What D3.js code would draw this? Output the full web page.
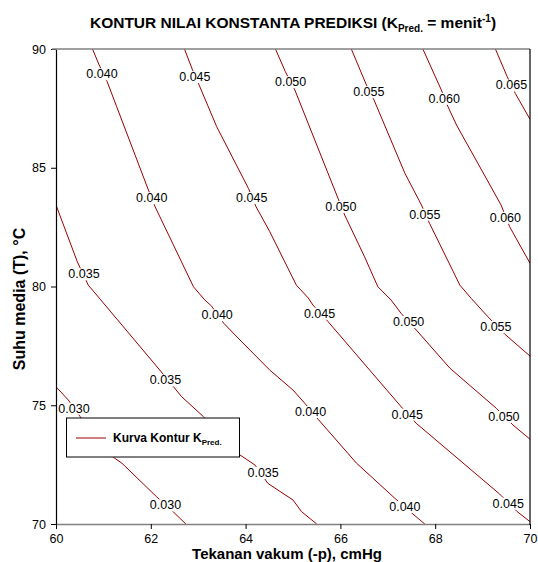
<!DOCTYPE html>
<html><head><meta charset="utf-8">
<script src="https://cdn.jsdelivr.net/npm/d3@7"></script>
<style>body{margin:0;background:#fff} svg{display:block} text{font-family:"Liberation Sans",Arial,sans-serif}</style>
</head><body><svg id="c" width="538" height="562"></svg>
<script>
// Contour levels
const levels = ["0.030","0.035","0.040","0.045","0.050","0.055","0.060","0.065"];
// Contour polylines [p (cmHg), T (°C)]
const line030 = [[60.0,75.78],[60.26,75.22],[60.51,74.52],[61.21,72.81],[61.39,72.56],[62.12,71.15],[62.47,70.52],[62.74,70.0]];
const line035 = [[60.0,83.43],[60.45,81.04],[60.68,80.06],[60.93,79.47],[62.19,76.48],[62.65,75.36],[63.11,74.52],[63.88,72.91],[64.20,72.48],[64.47,71.71],[65.0,71.01],[65.18,70.52],[65.5,70.0]];
const line040 = [[60.77,90.0],[60.91,89.33],[61.08,88.62],[61.28,87.57],[61.95,84.06],[62.09,83.36],[62.90,79.99],[63.14,79.43],[63.28,79.18],[63.54,78.45],[63.88,77.75],[64.51,76.48],[65.0,75.64],[65.25,75.08],[65.53,74.41],[66.34,72.56],[67.15,71.08],[67.53,70.42],[67.78,70.0]];
const line045 = [[62.71,90.0],[62.88,89.12],[63.02,88.48],[63.39,86.73],[64.06,84.13],[64.22,83.36],[64.51,82.31],[65.07,80.06],[65.32,79.52],[65.42,79.22],[65.74,78.52],[67.25,75.01],[67.60,74.24],[69.36,71.26],[69.73,70.52],[70.0,70.1]];
const line050 = [[64.63,90.0],[64.84,89.04],[65.04,88.27],[65.95,83.71],[66.09,83.01],[66.51,81.25],[66.79,79.99],[67.07,79.43],[67.28,78.87],[67.60,78.17],[68.31,76.56],[69.29,74.87],[69.64,74.17],[70.0,73.57]];
const line055 = [[66.23,90.0],[66.55,88.48],[66.71,87.85],[67.36,84.77],[67.71,83.43],[67.88,82.66],[68.52,80.06],[68.76,79.50],[69.11,78.73],[69.47,77.99],[70.0,77.07]];
const line060 = [[67.74,90.0],[68.13,88.27],[68.27,87.57],[68.45,86.80],[69.39,83.43],[69.57,82.52],[70.0,80.98]];
const line065 = [[69.27,90.0],[69.52,88.83],[69.69,88.13],[70.0,87.04]];
const contourLines = [line030,line035,line040,line045,line050,line055,line060,line065];
// Label anchor positions [p, T]
const labels030 = [[60.38,74.87],[62.31,70.80]];
const labels035 = [[60.59,80.53],[62.31,76.06],[64.37,72.16]];
const labels040 = [[60.97,88.95],[62.02,83.73],[63.40,78.80],[65.37,74.73],[67.36,70.73]];
const labels045 = [[62.93,88.83],[64.13,83.74],[65.56,78.87],[67.41,74.62],[69.54,70.87]];
const labels050 = [[64.95,88.62],[66.01,83.36],[67.44,78.52],[69.45,74.52]];
const labels055 = [[66.60,88.20],[67.78,83.04],[69.28,78.31]];
const labels060 = [[68.19,87.92],[69.48,82.91]];
const labels065 = [[69.61,88.48]];
const contourLabels = [labels030,labels035,labels040,labels045,labels050,labels055,labels060,labels065];
// Axes
const xTicks = [60,62,64,66,68,70];
const yTicks = [70,75,80,85,90];

const W = 538, H = 562;
const m = {left:56, right:8, top:49, bottom:38};
const svg = d3.select("#c");
svg.append("rect").attr("width",W).attr("height",H).attr("fill","#fff");
const x = d3.scaleLinear().domain([60,70]).range([m.left, W-m.right]);
const y = d3.scaleLinear().domain([70,90]).range([H-m.bottom, m.top]);
const lineColor = "#990000";

svg.append("clipPath").attr("id","clip").append("rect")
  .attr("x",x(60)).attr("y",y(90)).attr("width",x(70)-x(60)).attr("height",y(70)-y(90));

const gL = svg.append("g").attr("clip-path","url(#clip)");
const lineGen = d3.line().x(d=>x(d[0])).y(d=>y(d[1]));
gL.selectAll("path.c").data(contourLines).join("path")
  .attr("class","c").attr("d",lineGen)
  .attr("fill","none").attr("stroke",lineColor).attr("stroke-width",1);

// labels with white gap
const gT = svg.append("g");
contourLabels.forEach((arr,i)=>{
  arr.forEach(p=>{
    const g = gT.append("g");
    const t = g.append("text").attr("x",x(p[0])).attr("y",y(p[1])).attr("dy","0.35em")
      .attr("text-anchor","middle").attr("font-size",12.5).attr("fill","#000").text(levels[i]);
    const b = t.node().getBBox();
    g.insert("rect","text").attr("x",b.x-1).attr("y",b.y+1).attr("width",b.width+2).attr("height",b.height-2).attr("fill","#fff");
  });
});

// Axes
const xAxis = svg.append("g").attr("transform",`translate(0,${y(70)})`)
  .call(d3.axisBottom(x).tickValues(xTicks).tickFormat(d3.format("d")).tickSize(5).tickSizeOuter(0));
xAxis.select(".domain").attr("stroke","#808080").attr("stroke-width",1.5);
xAxis.selectAll(".tick line").attr("stroke","#000");
xAxis.selectAll(".tick text").attr("font-size",12.5).attr("font-family","Liberation Sans, Arial, sans-serif").attr("dy","0.71em").attr("y",10);

const yAxis = svg.append("g").attr("transform",`translate(${x(60)},0)`)
  .call(d3.axisLeft(y).tickValues(yTicks).tickFormat(d3.format("d")).tickSize(5).tickSizeOuter(0));
yAxis.select(".domain").attr("stroke","#000").attr("stroke-width",1.2);
yAxis.selectAll(".tick line").attr("stroke","#000");
yAxis.selectAll(".tick text").attr("font-size",12.5).attr("font-family","Liberation Sans, Arial, sans-serif").attr("x",-10);

// top & right frame
svg.append("line").attr("x1",x(60)-4).attr("x2",x(70)).attr("y1",y(90)).attr("y2",y(90)).attr("stroke","#808080").attr("stroke-width",1.5);
svg.append("line").attr("x1",x(70)).attr("x2",x(70)).attr("y1",y(90)).attr("y2",y(70)+1).attr("stroke","#000").attr("stroke-width",1.2);

// Legend
const lg = svg.append("g");
lg.append("rect").attr("x",66.5).attr("y",418).attr("width",173).attr("height",39).attr("fill","#fff").attr("stroke","#000").attr("stroke-width",1);
lg.append("line").attr("x1",76).attr("x2",106).attr("y1",438).attr("y2",438).attr("stroke",lineColor).attr("stroke-width",1);
const lt = lg.append("text").attr("x",113).attr("y",442).attr("font-size",12).attr("font-weight","bold");
lt.append("tspan").text("Kurva Kontur K");
lt.append("tspan").attr("font-size",8).attr("dy",3).text("Pred.");

// Titles
const tt = svg.append("text").attr("x",293).attr("y",28).attr("text-anchor","middle").attr("font-size",15.5).attr("font-weight","bold");
tt.append("tspan").text("KONTUR NILAI KONSTANTA PREDIKSI (K");
tt.append("tspan").attr("font-size",10).attr("dy",4).text("Pred.");
tt.append("tspan").attr("dy",-4).text(" = menit");
tt.append("tspan").attr("font-size",10).attr("dy",-6).text("-1");
tt.append("tspan").attr("dy",6).text(")");

svg.append("text").attr("x",287).attr("y",559).attr("text-anchor","middle").attr("font-size",15).attr("font-weight","bold").text("Tekanan vakum (-p), cmHg");
svg.append("text").attr("transform","translate(25,299) rotate(-90)").attr("text-anchor","middle").attr("font-size",16).attr("font-weight","bold").text("Suhu media (T), °C");
</script></body></html>
